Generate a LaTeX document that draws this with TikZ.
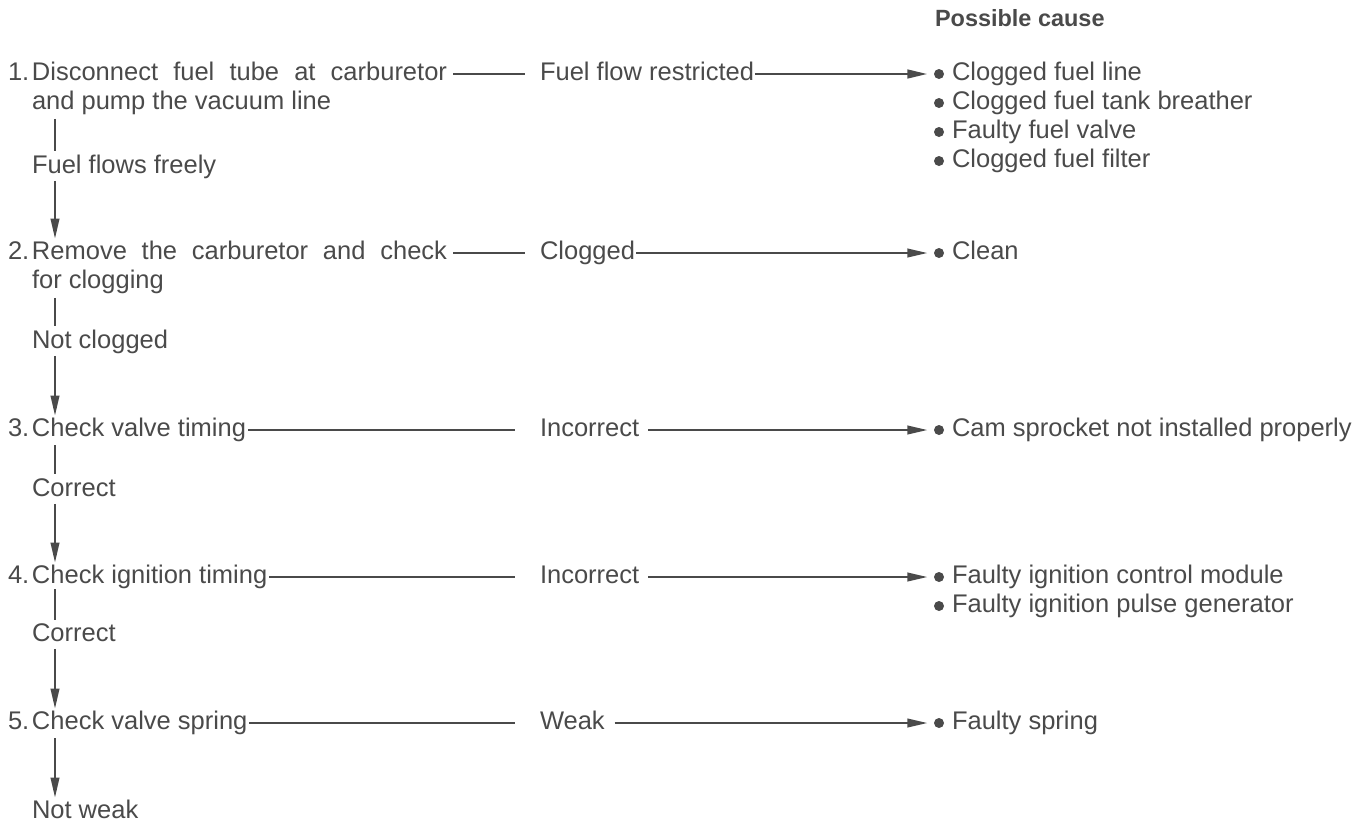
\documentclass[tikz,border=0pt]{standalone}
\usepackage{fontspec}
\setmainfont{Liberation Sans}
\usetikzlibrary{arrows.meta}
\definecolor{ink}{HTML}{4A4A4A}
\newcommand{\stepnum}[1]{\makebox[18pt][l]{#1}}
\begin{document}
\begin{tikzpicture}[x=0.75pt,y=-0.75pt,
  every node/.style={inner sep=0pt, outer sep=0pt, text=ink,
    font=\fontsize{19.125pt}{21.4pt}\selectfont,
    text height=14.3pt, text depth=4.4pt},
  lbl/.style={anchor=west},
  head/.style={anchor=west, font=\fontsize{17.6pt}{20pt}\selectfont\bfseries},
  dot/.style={circle, fill=ink, inner sep=0pt, minimum size=7.5pt, text height=0pt, text depth=0pt, text width=0pt},
  conn/.style={draw=ink, line width=1.4pt},
  arr/.style={conn, -{Triangle[length=15pt, width=6.5pt]}}]
\useasboundingbox (0,0) rectangle (1369,826);

% header
\node[head] (hd) at (935,20) {Possible cause};

% steps (left column)
\node[lbl] (s1)  at (8,74)     {\stepnum{1.}\makebox[311.25pt][s]{Disconnect fuel tube at carburetor}};
\node[lbl] (s1b) at (32,102.5) {and pump the vacuum line};
\node[lbl] (l1)  at (32,167)   {Fuel flows freely};
\node[lbl] (s2)  at (8,253)    {\stepnum{2.}\makebox[311.25pt][s]{Remove the carburetor and check}};
\node[lbl] (s2b) at (32,281.5) {for clogging};
\node[lbl] (l2)  at (32,342)   {Not clogged};
\node[lbl] (s3)  at (8,430)    {\stepnum{3.}Check valve timing};
\node[lbl] (l3)  at (32,490)   {Correct};
\node[lbl] (s4)  at (8,577)    {\stepnum{4.}Check ignition timing};
\node[lbl] (l4)  at (32,635)   {Correct};
\node[lbl] (s5)  at (8,723)    {\stepnum{5.}Check valve spring};
\node[lbl] (l5)  at (32,812)   {Not weak};

% results (middle column)
\node[lbl] (r1) at (540,74)  {Fuel flow restricted};
\node[lbl] (r2) at (540,253) {Clogged};
\node[lbl] (r3) at (540,430) {Incorrect};
\node[lbl] (r4) at (540,577) {Incorrect};
\node[lbl] (r5) at (540,723) {Weak};

% causes (right column)
\node[dot] (b1a) at (939,74)  {};  \node[lbl] (c1a) at (952,74)  {Clogged fuel line};
\node[dot] (b1b) at (939,103) {};  \node[lbl] (c1b) at (952,103) {Clogged fuel tank breather};
\node[dot] (b1c) at (939,132) {};  \node[lbl] (c1c) at (952,132) {Faulty fuel valve};
\node[dot] (b1d) at (939,161) {};  \node[lbl] (c1d) at (952,161) {Clogged fuel filter};
\node[dot] (b2)  at (939,253) {};  \node[lbl] (c2)  at (952,253) {Clean};
\node[dot] (b3)  at (939,430) {};  \node[lbl] (c3)  at (952,430) {Cam sprocket not installed properly};
\node[dot] (b4a) at (939,577) {};  \node[lbl] (c4a) at (952,577) {Faulty ignition control module};
\node[dot] (b4b) at (939,606) {};  \node[lbl] (c4b) at (952,606) {Faulty ignition pulse generator};
\node[dot] (b5)  at (939,723) {};  \node[lbl] (c5)  at (952,723) {Faulty spring};

% horizontal connectors
\draw[conn, shorten <=4.5pt, shorten >=11.25pt] (s1) -- (r1);
\draw[arr, line width=1.8pt, shorten <=0.75pt, shorten >=5pt] (r1) -- (b1a);
\draw[conn, shorten <=4.5pt, shorten >=11.25pt] (s2) -- (r2);
\draw[arr, shorten <=0.75pt, shorten >=5pt] (r2) -- (b2);
\draw[conn, shorten <=1.5pt, shorten >=18.75pt] (s3) -- (r3);
\draw[arr, shorten <=6.75pt, shorten >=5pt] (r3) -- (b3);
\draw[conn, shorten <=1.5pt, shorten >=18.75pt] (s4) -- (r4);
\draw[arr, shorten <=6.75pt, shorten >=5pt] (r4) -- (b4a);
\draw[conn, shorten <=1.5pt, shorten >=18.75pt] (s5) -- (r5);
\draw[arr, shorten <=7.5pt, shorten >=5pt] (r5) -- (b5);

% vertical flow
\coordinate (vx) at (55,0);
\draw[conn, shorten <=3pt, shorten >=3pt] (s1b.south -| vx) -- (l1.north -| vx);
\draw[arr,  shorten <=1pt, shorten >=1.5pt] (l1.south -| vx) -- (s2.north -| vx);
\draw[conn, shorten <=3pt, shorten >=3pt] (s2b.south -| vx) -- (l2.north -| vx);
\draw[arr,  shorten <=1pt, shorten >=1.5pt] (l2.south -| vx) -- (s3.north -| vx);
\draw[conn, shorten <=2pt, shorten >=3pt] (s3.south -| vx) -- (l3.north -| vx);
\draw[arr,  shorten <=1pt, shorten >=1.5pt] (l3.south -| vx) -- (s4.north -| vx);
\draw[conn, shorten <=0pt, shorten >=2pt] (s4.south -| vx) -- (l4.north -| vx);
\draw[arr,  shorten <=1pt, shorten >=1.5pt] (l4.south -| vx) -- (s5.north -| vx);
\draw[arr,  shorten <=2pt, shorten >=1.5pt] (s5.south -| vx) -- (l5.north -| vx);
\end{tikzpicture}
\end{document}
